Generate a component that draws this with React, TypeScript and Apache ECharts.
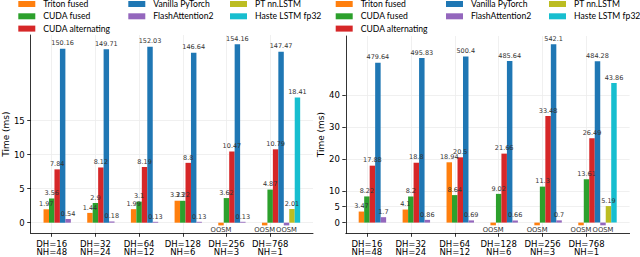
import React, { useEffect, useRef } from "react";
import * as echarts from "echarts";

const O = "OOSM";
type V = number | "OOSM" | null;

const categories = ["DH=16\nNH=48", "DH=32\nNH=24", "DH=64\nNH=12", "DH=128\nNH=6", "DH=256\nNH=3", "DH=768\nNH=1"];
const seriesNames = ["Triton fused", "CUDA fused", "CUDA alternating", "Vanilla PyTorch", "FlashAttention2", "PT nn.LSTM", "Haste LSTM fp32"];
const colors = ["#ff7f0e", "#2ca02c", "#d62728", "#1f77b4", "#9467bd", "#bcbd22", "#17becf"];

// left panel values (ms)
const leftTriton: V[] = [1.97, 1.44, 1.99, 3.23, O, O];
const leftCudaFused: V[] = [3.56, 2.9, 3.1, 3.22, 3.62, 4.87];
const leftCudaAlt: V[] = [7.84, 8.12, 8.19, 8.8, 10.47, 10.79];
const leftVanilla: V[] = [150.16, 149.71, 152.03, 146.64, 154.16, 147.47];
const leftFlash: V[] = [0.54, 0.18, 0.13, 0.13, 0.13, O];
const leftPtLstm: V[] = [null, null, null, null, null, 2.01];
const leftHaste: V[] = [null, null, null, null, null, 18.41];

// right panel values (ms)
const rightTriton: V[] = [3.47, 4.1, 18.94, O, O, O];
const rightCudaFused: V[] = [8.22, 8.2, 8.64, 9.02, 11.3, 13.61];
const rightCudaAlt: V[] = [17.88, 18.8, 20.5, 21.66, 33.48, 26.49];
const rightVanilla: V[] = [479.64, 495.83, 500.4, 485.64, 542.1, 484.28];
const rightFlash: V[] = [1.7, 0.86, 0.69, 0.66, 0.7, O];
const rightPtLstm: V[] = [null, null, null, null, null, 5.19];
const rightHaste: V[] = [null, null, null, null, null, 43.86];

const leftTicks = [0, 5, 10, 15];
const rightTicks = [0, 5, 10, 20, 30, 40];
const xTicks = [0, 1, 2, 3, 4, 5];

const BAR_W = 0.125;
const FONT = "DejaVu Sans";

const panels = [
  {
    series: [leftTriton, leftCudaFused, leftCudaAlt, leftVanilla, leftFlash, leftPtLstm, leftHaste],
    ticks: leftTicks,
    grid: { left: 28.3, top: 35, width: 284.7, height: 198.3 },
    yMin: -1.56, yMax: 27.6,
    breakAt: 20, upperFrom: 116.2, upperScale: 0.1643,
    legendLeft: [18.3, 128.3, 230],
  },
  {
    series: [rightTriton, rightCudaFused, rightCudaAlt, rightVanilla, rightFlash, rightPtLstm, rightHaste],
    ticks: rightTicks,
    grid: { left: 345.8, top: 36, width: 283.8, height: 197.3 },
    yMin: -3.36, yMax: 58.6,
    breakAt: 47, upperFrom: 445, upperScale: 0.0925,
    legendLeft: [335.7, 446, 549],
  },
];

const legendCols = [
  ["Triton fused", "CUDA fused", "CUDA alternating"],
  ["Vanilla PyTorch", "FlashAttention2"],
  ["PT nn.LSTM", "Haste LSTM fp32"],
];

function buildOption() {
  const grids: any[] = [];
  const xAxes: any[] = [];
  const yAxes: any[] = [];
  const series: any[] = [];
  const legends: any[] = [];

  panels.forEach((p, pi) => {
    grids.push({ ...p.grid, containLabel: false });
    xAxes.push({
      type: "value",
      gridIndex: pi,
      min: -0.481,
      max: 5.981,
      axisLine: { show: true, onZero: false, lineStyle: { color: "#000", width: 0.8 } },
      axisTick: { show: true, customValues: xTicks, length: 3.5, lineStyle: { color: "#000", width: 0.8 } },
      axisLabel: {
        customValues: xTicks,
        formatter: (v: number) => categories[Math.round(v)] ?? "",
        fontFamily: FONT,
        fontSize: 8.5,
        lineHeight: 8.6,
        color: "#000",
        margin: 6,
      },
      splitLine: { show: true, lineStyle: { color: "#ececec", width: 0.8 } },
    });
    yAxes.push({
      type: "value",
      gridIndex: pi,
      min: p.yMin,
      max: p.yMax,
      name: "Time (ms)",
      nameLocation: "middle",
      nameGap: 18,
      nameTextStyle: { fontFamily: FONT, fontSize: 9, color: "#000" },
      axisLine: { show: true, onZero: false, lineStyle: { color: "#000", width: 0.8 } },
      axisTick: { show: true, customValues: p.ticks, length: 3.5, lineStyle: { color: "#000", width: 0.8 } },
      axisLabel: {
        customValues: p.ticks,
        formatter: (v: number) => (p.ticks.indexOf(v) >= 0 ? String(v) : ""),
        fontFamily: FONT,
        fontSize: 8.5,
        color: "#000",
        margin: 6,
      },
      splitLine: { show: true, lineStyle: { color: "#ececec", width: 0.8 } },
    });

    const tf = (v: number) => (v <= p.breakAt ? v : p.breakAt + (v - p.upperFrom) * p.upperScale);

    const allItems: { i: number; v: V; slot: number }[] = [];

    p.series.forEach((vals, slot) => {
      const items = vals
        .map((v, i) => ({ i, v, slot }))
        .filter((it) => it.v !== null);
      allItems.push(...items);
      const color = colors[slot];
      series.push({
        type: "custom",
        name: seriesNames[slot],
        xAxisIndex: pi,
        yAxisIndex: pi,
        itemStyle: { color },
        clip: false,
        z: 2,
        encode: { x: 0, y: 1 },
        data: items.map((it) => [it.i, it.v === O ? 0 : tf(it.v as number)]),
        renderItem: (params: any, api: any) => {
          const it = items[params.dataIndex];
          const xc = api.value(0) + (slot - 1) * BAR_W;
          const bw = api.size([BAR_W, 0])[0];
          const base = api.coord([xc, 0]);
          if (it.v === O) {
            return { type: "rect", shape: { x: base[0] - bw / 2, y: base[1], width: bw, height: 2.7 }, style: { fill: color } };
          }
          const top = api.coord([xc, api.value(1)]);
          return { type: "rect", shape: { x: top[0] - bw / 2, y: top[1], width: bw, height: base[1] - top[1] }, style: { fill: color } };
        },
      });
    });

    // value labels drawn above all bars
    series.push({
      type: "custom",
      name: "labels-" + pi,
      xAxisIndex: pi,
      yAxisIndex: pi,
      clip: false,
      z: 5,
      silent: true,
      encode: { x: 0, y: 1 },
      data: allItems.map((it) => [it.i, it.v === O ? 0 : tf(it.v as number)]),
      renderItem: (params: any, api: any) => {
        const it = allItems[params.dataIndex];
        const xc = api.value(0) + (it.slot - 1) * BAR_W;
        if (it.v === O) {
          const base = api.coord([xc, 0]);
          return {
            type: "text",
            style: {
              text: "OOSM", x: base[0], y: base[1] + 7.8, align: "center", verticalAlign: "middle",
              fontSize: 6.8, fontFamily: FONT, fill: "#333",
            },
          };
        }
        const top = api.coord([xc, api.value(1)]);
        return {
          type: "text",
          style: {
            text: String(it.v), x: top[0], y: top[1] - 5.3, align: "center", verticalAlign: "middle",
            fontSize: 6.5, fontFamily: FONT, fill: "#333",
          },
        };
      },
    });

    legendCols.forEach((names, ci) => {
      legends.push({
        orient: "vertical",
        left: p.legendLeft[ci],
        top: -1,
        padding: 0,
        itemWidth: 17,
        itemHeight: 6,
        itemGap: 2.3,
        icon: "rect",
        selectedMode: false,
        data: names,
        textStyle: { fontFamily: "Lato", fontSize: 8.6, lineHeight: 10, color: "#000", padding: [0, 0, 0, 3] },
      });
    });
  });

  return {
    animation: false,
    backgroundColor: "#fff",
    grid: grids,
    xAxis: xAxes,
    yAxis: yAxes,
    legend: legends,
    series,
  };
}

export default function App() {
  const ref = useRef<HTMLDivElement>(null);
  useEffect(() => {
    if (!ref.current) return;
    const chart = echarts.init(ref.current, undefined, { renderer: "svg" });
    chart.setOption(buildOption() as any);
    return () => chart.dispose();
  }, []);
  return <div ref={ref} style={{ position: "absolute", left: 0, top: 0, width: 640, height: 257 }} />;
}
